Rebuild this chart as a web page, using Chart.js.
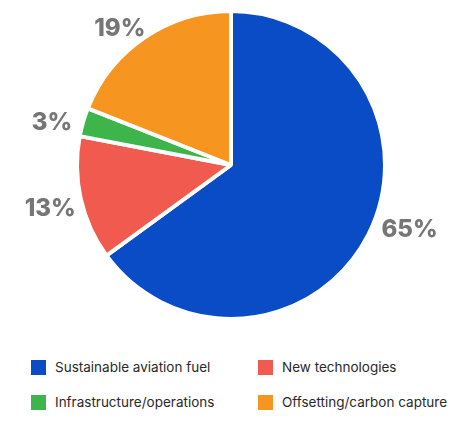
<!DOCTYPE html>
<html>
<head>
<meta charset="utf-8">
<script src="https://cdn.jsdelivr.net/npm/chart.js@4"></script>
<style>
  html, body { margin: 0; padding: 0; background: #fff; }
  body { width: 474px; height: 429px; position: relative; overflow: hidden; font-family: Inter, "Noto Sans", sans-serif; }
  #wrap { position: absolute; left: 0; top: 0; width: 474px; height: 335px; }
  #legend { position: absolute; left: 31px; top: 359px; display: grid; grid-template-columns: 227px 200px; row-gap: 19px; }
  .item { display: flex; align-items: center; font-size: 13.5px; color: #2a2a2a; height: 16px; white-space: nowrap; }
  .sw { width: 15px; height: 15px; margin-right: 9px; flex: none; }
</style>
</head>
<body>
<div id="wrap"><canvas id="chart"></canvas></div>
<div id="legend"></div>
<script>
const labels = ['Sustainable aviation fuel', 'New technologies', 'Infrastructure/operations', 'Offsetting/carbon capture'];
const values = [65, 13, 3, 19];
const colors = ['#0a4cc6', '#f15a4e', '#3db54b', '#f6951f'];

// percentage labels just outside each slice
const outsideLabels = {
  id: 'outsideLabels',
  afterDatasetsDraw(chart, args, opts) {
    const { ctx } = chart;
    const meta = chart.getDatasetMeta(0);
    ctx.save();
    ctx.font = '800 24px Inter, "Noto Sans", sans-serif';
    ctx.fillStyle = '#767676';
    ctx.textAlign = 'center';
    ctx.textBaseline = 'middle';
    meta.data.forEach((arc, i) => {
      const p = arc.getProps(['x', 'y', 'startAngle', 'endAngle', 'outerRadius'], true);
      // labels sit a little counter-clockwise of the slice middle, like the original
      const mid = (p.startAngle + p.endAngle) / 2 + (opts.nudge[i] || 0) * Math.PI / 180;
      const r = p.outerRadius + opts.gap[i];
      ctx.fillText(values[i] + '%', p.x + Math.cos(mid) * r, p.y + Math.sin(mid) * r);
    });
    ctx.restore();
  }
};

new Chart(document.getElementById('chart'), {
  type: 'pie',
  data: {
    labels: labels,
    datasets: [{
      data: values,
      backgroundColor: colors,
      borderColor: '#fff',
      borderWidth: 4,
    }]
  },
  options: {
    responsive: true,
    maintainAspectRatio: false,
    animation: false,
    layout: { padding: { top: 9, bottom: 14, left: 0, right: 12 } },
    plugins: {
      legend: { display: false },
      tooltip: { enabled: false },
      outsideLabels: { nudge: [-7, -1, -3, -5], gap: [36, 32, 30, 22] }
    }
  },
  plugins: [outsideLabels]
});

document.getElementById('legend').innerHTML = labels.map((l, i) =>
  `<div class="item"><span class="sw" style="background:${colors[i]}"></span>${l}</div>`
).join('');
</script>
</body>
</html>
